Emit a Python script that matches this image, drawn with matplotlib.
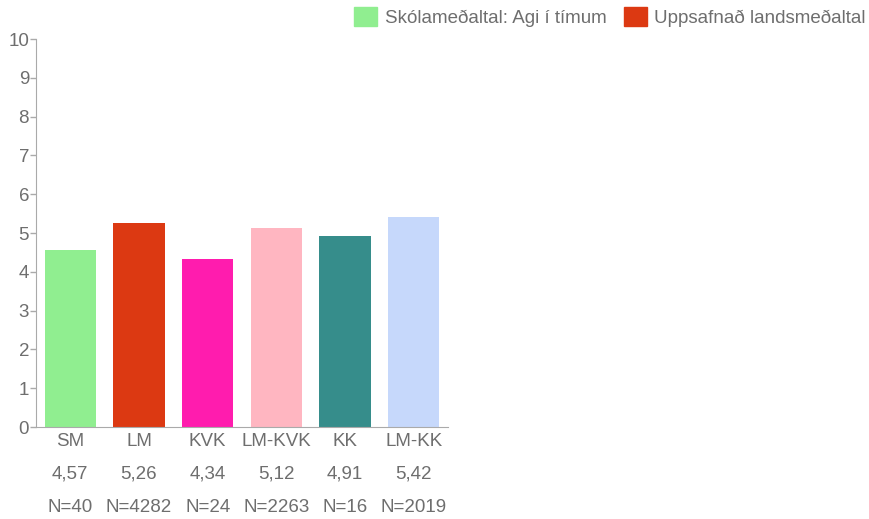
import matplotlib.pyplot as plt
from matplotlib.patches import Patch

plt.rcParams['font.family'] = ['Liberation Sans', 'DejaVu Sans']

# Group means for "Agi í tímum"
groups = ["SM", "LM", "KVK", "LM-KVK", "KK", "LM-KK"]
means = [4.57, 5.26, 4.34, 5.12, 4.91, 5.42]
counts = [40, 4282, 24, 2263, 16, 2019]
colors = ["#90ee90", "#dc3912", "#ff1cae", "#ffb6c1", "#368d8b", "#c6d8fb"]

legend_labels = ["Skólameðaltal: Agi í tímum", "Uppsafnað landsmeðaltal"]

text_col = "#6e6e6e"
axis_col = "#aaaaaa"
fs = 13.5

W, H = 869, 519
fig = plt.figure(figsize=(W / 100, H / 100), dpi=100)
ax_h = 388
ax = fig.add_axes([36 / W, 1 - 427 / H, 412 / W, ax_h / H])

x = list(range(len(groups)))
ax.bar(x, means, width=0.75, color=colors)

ax.set_xlim(-0.5, len(groups) - 0.5)
ax.set_ylim(0, 10)
ax.set_yticks(range(11))
ax.tick_params(axis='y', colors=axis_col, labelcolor=text_col, labelsize=fs,
               length=4, width=1, pad=1)

# three label rows under each bar: name, mean, count
ax.set_xticks(x)
ax.set_xticklabels([])
ax.tick_params(axis='x', length=0)
tr = ax.get_xaxis_transform()
for i, (g, m, n) in enumerate(zip(groups, means, counts)):
    ax.text(i, -14 / ax_h, g, transform=tr, ha='center', va='center',
            fontsize=fs, color=text_col)
    ax.text(i, -47 / ax_h, f"{m:.2f}".replace('.', ','), transform=tr,
            ha='center', va='center', fontsize=fs, color=text_col)
    ax.text(i, -80 / ax_h, f"N={n}", transform=tr, ha='center', va='center',
            fontsize=fs, color=text_col)

for side in ['top', 'right']:
    ax.spines[side].set_visible(False)
ax.spines['left'].set_color(axis_col)
ax.spines['bottom'].set_color(axis_col)

handles = [Patch(color=colors[0]), Patch(color=colors[1])]
fig.legend(handles, legend_labels, loc='upper right',
           bbox_to_anchor=(866 / W, 1 - 7 / H), borderpad=0, borderaxespad=0,
           ncol=2, frameon=False, fontsize=fs, labelcolor=text_col,
           handlelength=1.2, handleheight=1.2, handletextpad=0.42,
           columnspacing=0.95)

fig.savefig("out.png", dpi=100)
